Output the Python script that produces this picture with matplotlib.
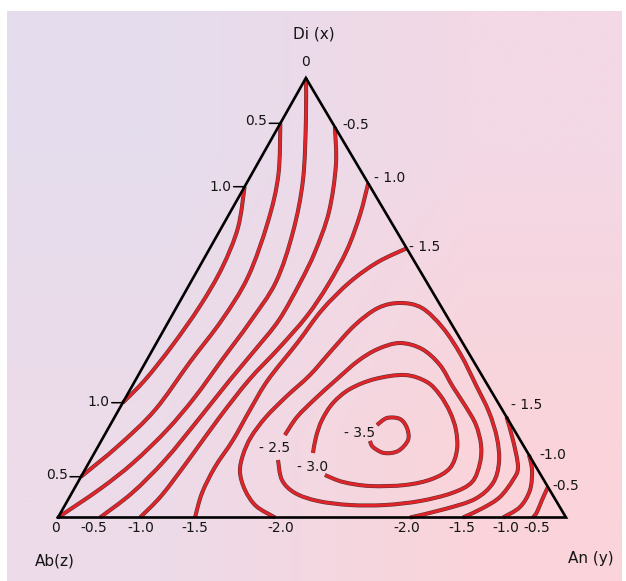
import numpy as np
import matplotlib
matplotlib.use("Agg")
import matplotlib.pyplot as plt
import matplotlib.patheffects as pe
from matplotlib.path import Path
from matplotlib.patches import PathPatch

# ---------------- data: contour lines as (Di fraction x, An fraction y); Ab = 1 - x - y
curve_p10 = [(0.7527, 0.0), (0.6587, 0.0327), (0.5677, 0.0457), (0.4812, 0.0447), (0.3902, 0.0339),
             (0.3129, 0.0185), (0.2612, 0.0)]
curve_p05 = [(0.8969, 0.0), (0.7793, 0.0535), (0.6724, 0.0850), (0.5472, 0.1069), (0.4494, 0.1033),
             (0.3538, 0.0872), (0.2446, 0.0715), (0.1627, 0.0388), (0.0928, 0.0)]
curve_0 = [(1.0, 0.0), (0.9044, 0.0467), (0.7679, 0.1075), (0.6496, 0.1455), (0.5358, 0.1675),
           (0.4448, 0.1608), (0.3584, 0.1478), (0.2742, 0.1358), (0.1991, 0.1173), (0.1240, 0.0870),
           (0.0648, 0.0510), (0.0, 0.0)]
curve_m05 = [(0.8885, 0.1115), (0.8020, 0.1557), (0.6951, 0.1941), (0.6041, 0.2110), (0.5336, 0.2159),
             (0.4494, 0.2157), (0.3811, 0.2018), (0.3129, 0.1858), (0.2218, 0.1673), (0.1308, 0.1469),
             (0.0557, 0.1185), (0.0, 0.0827)]
curve_m10 = [(0.7604, 0.2396), (0.6883, 0.2585), (0.6087, 0.2719), (0.5290, 0.2732), (0.4585, 0.2663),
             (0.3857, 0.2469), (0.3129, 0.2232), (0.2264, 0.2065), (0.1354, 0.1937), (0.0512, 0.1797),
             (0.0, 0.1614)]
curve_m15 = [(0.6125, 0.3875), (0.5813, 0.3461), (0.5358, 0.3132), (0.4721, 0.2892), (0.3993, 0.2776),
             (0.3129, 0.2606), (0.2446, 0.2585), (0.1763, 0.2585), (0.1149, 0.2530), (0.0557, 0.2563),
             (0.0, 0.2697)]
curve_m20 = [(0.0, 0.4272), (0.0262, 0.3770), (0.0626, 0.3376), (0.1035, 0.3077), (0.1422, 0.2947),
             (0.1832, 0.2906), (0.2287, 0.2978), (0.2765, 0.3157), (0.3242, 0.3378), (0.3811, 0.3533),
             (0.4380, 0.3709), (0.4767, 0.3972), (0.4881, 0.4350), (0.4767, 0.4839), (0.4312, 0.5474),
             (0.3697, 0.6128), (0.3015, 0.6756), (0.2400, 0.7313), (0.1809, 0.7758), (0.1263, 0.8065),
             (0.0785, 0.8179), (0.0421, 0.8004), (0.0193, 0.7524), (0.0, 0.6929)]
curve_m25 = [(0.1877, 0.3551), (0.2287, 0.3589), (0.2696, 0.3742), (0.3129, 0.3945), (0.3561, 0.4167),
             (0.3834, 0.4427), (0.3970, 0.4793), (0.3834, 0.5293), (0.3470, 0.5825), (0.2969, 0.6327),
             (0.2514, 0.6805), (0.2105, 0.7201), (0.1650, 0.7522), (0.1240, 0.7701), (0.0808, 0.7756),
             (0.0557, 0.7484), (0.0375, 0.6943), (0.0284, 0.6299), (0.0284, 0.5610), (0.0375, 0.4935),
             (0.0557, 0.4394), (0.0853, 0.3992), (0.1308, 0.3693)]
curve_m30 = [(0.1468, 0.4303), (0.1832, 0.4185), (0.2218, 0.4114), (0.2605, 0.4142), (0.2924, 0.4321),
             (0.3151, 0.4701), (0.3242, 0.5248), (0.3083, 0.5758), (0.2787, 0.6159), (0.2400, 0.6545),
             (0.1991, 0.6862), (0.1536, 0.7104), (0.1126, 0.7167), (0.0876, 0.6935), (0.0739, 0.6470),
             (0.0717, 0.5791), (0.0808, 0.5217), (0.0967, 0.4783)]
curve_m35 = [(0.2105, 0.5252), (0.2264, 0.5372), (0.2241, 0.5638), (0.2036, 0.5876), (0.1763, 0.6030),
             (0.1513, 0.5955), (0.1468, 0.5701), (0.1604, 0.5417), (0.1741, 0.5291)]
curve_m15_an = [(0.2287, 0.7713), (0.1763, 0.8096), (0.1149, 0.8494), (0.0853, 0.8539), (0.0466, 0.8472),
                (0.0216, 0.8260), (0.0, 0.7972)]
curve_m10_an = [(0.1422, 0.8578), (0.1081, 0.8803), (0.0626, 0.8986), (0.0239, 0.8978), (0.0, 0.8760)]
curve_m05_an = [(0.0694, 0.9306), (0.0398, 0.9333), (0.0125, 0.9368), (0.0, 0.9350)]

curves = [curve_p10, curve_p05, curve_0, curve_m05, curve_m10, curve_m15, curve_m20,
          curve_m25, curve_m30, curve_m35, curve_m15_an, curve_m10_an, curve_m05_an]

# edge labels
left_di = [0.8969, 0.7527, 0.2612, 0.0928]            # on Di-Ab edge
left_labels = ["0.5", "1.0", "1.0", "0.5"]
right_di = [0.8885, 0.7604, 0.6125, 0.2287, 0.1422, 0.0694]   # on Di-An edge
right_labels = ["-0.5", "- 1.0", "- 1.5", "- 1.5", "-1.0", "-0.5"]
bottom_an = [0.0, 0.0827, 0.1614, 0.2697, 0.4272, 0.6929, 0.7972, 0.8760, 0.9350]  # on Ab-An edge
bottom_labels = ["0", "-0.5", "-1.0", "-1.5", "-2.0", "-2.0", "-1.5", "-1.0", "-0.5"]
inner_labels = ["- 2.5", "- 3.0", "- 3.5"]
inner_pos = [(0.1581, 0.3500), (0.1149, 0.4459), (0.1923, 0.5006)]

# ---------------- layout / style
DIX, DIY = 0.488, 0.866


def cart(di, an):
    di = np.asarray(di, float)
    an = np.asarray(an, float)
    return an + di * DIX, di * DIY


def smooth_path(X, Y):
    """Catmull-Rom spline through the traced points, drawn as cubic Bezier segments."""
    P = np.column_stack([X, Y])
    n = len(P)
    verts = [P[0]]
    codes = [Path.MOVETO]
    for i in range(n - 1):
        p0 = P[i - 1] if i > 0 else P[i]
        p1, p2 = P[i], P[i + 1]
        p3 = P[i + 2] if i + 2 < n else P[i + 1]
        c1 = p1 + (p2 - p0) / 6.0
        c2 = p2 - (p3 - p1) / 6.0
        verts += [c1, c2, p2]
        codes += [Path.CURVE4] * 3
    return Path(np.array(verts), codes)


W, H = 626, 581
fig = plt.figure(figsize=(W / 100, H / 100), dpi=100)
fig.patch.set_facecolor("white")

# background gradient (scan tint)
bg = fig.add_axes([7 / W, 0, 615 / W, 570 / H], zorder=0)
tl = np.array([229, 221, 237]) / 255
tr = np.array([243, 216, 229]) / 255
bl = np.array([237, 219, 233]) / 255
br = np.array([250, 212, 218]) / 255
img = np.array([[tl, tr], [bl, br]])
bg.imshow(img, interpolation="bilinear", aspect="auto", extent=[0, 1, 0, 1])
bg.set_axis_off()

ax = fig.add_axes([58 / W, (H - 517.5) / H, 508 / W, 507.5 / H], zorder=1)
ax.set_xlim(0, 1)
ax.set_ylim(0, 1)
ax.set_axis_off()
ax.patch.set_alpha(0)

FONT = ["DejaVu Sans"]
TXT = "#151515"
RED = "#e1232a"
effects = [pe.Stroke(linewidth=2.9, foreground="#5a3434"), pe.Normal()]

for c in curves:
    d = [p[0] for p in c]
    a = [p[1] for p in c]
    X, Y = cart(d, a)
    patch = PathPatch(smooth_path(X, Y), facecolor="none", edgecolor=RED, lw=2.1,
                      capstyle="butt", joinstyle="round", zorder=2, clip_on=False,
                      path_effects=effects)
    ax.add_patch(patch)

# triangle
tx, ty = cart([0, 0, 1, 0], [0, 1, 0, 0])
ax.plot(tx, ty, color="black", lw=1.9, zorder=3, clip_on=False, solid_joinstyle="miter")

fs = 10
# left edge ticks + labels
left_dy = [2, 0, 1, 2]
for d, lab, dy in zip(left_di, left_labels, left_dy):
    X, Y = cart(d, 0.0)
    ax.annotate("", xy=(X, Y), xytext=(-11, 0), textcoords="offset pixels",
                arrowprops=dict(arrowstyle="-", lw=1.1, color="black", shrinkA=0, shrinkB=0))
    ax.annotate(lab, xy=(X, Y), xytext=(-13, dy), textcoords="offset pixels",
                ha="right", va="center", fontsize=fs, family=FONT, color=TXT)

# right edge labels
right_off = [(7, 2), (6, 5), (2, 1), (4, 12), (10, 0), (4, 1)]
for d, lab, (dx, dy) in zip(right_di, right_labels, right_off):
    X, Y = cart(d, 1 - d)
    ax.annotate(lab, xy=(X, Y), xytext=(dx, dy), textcoords="offset pixels",
                ha="left", va="center", fontsize=fs, family=FONT, color=TXT)

# bottom labels
bottom_dx = [-3, -6, 1, 0, 6, -3, -1, 3, 4]
for a, lab, dx in zip(bottom_an, bottom_labels, bottom_dx):
    X, Y = cart(0.0, a)
    ax.annotate(lab, xy=(X, Y), xytext=(dx, -11), textcoords="offset pixels",
                ha="center", va="center", fontsize=fs, family=FONT, color=TXT)

# interior labels
for lab, (d, a) in zip(inner_labels, inner_pos):
    X, Y = cart(d, a)
    ax.text(X, Y, lab, ha="center", va="center", fontsize=fs, family=FONT, color=TXT)

# apex label and component names
X, Y = cart(1.0, 0.0)
ax.annotate("0", xy=(X, Y), xytext=(0, 16), textcoords="offset pixels",
            ha="center", va="center", fontsize=fs, family=FONT, color=TXT)
ax.annotate("Di (x)", xy=(X, Y), xytext=(8, 44), textcoords="offset pixels",
            ha="center", va="center", fontsize=11, family=FONT, color=TXT)
X, Y = cart(0.0, 0.0)
ax.annotate("Ab(z)", xy=(X, Y), xytext=(-3, -44), textcoords="offset pixels",
            ha="center", va="center", fontsize=11, family=FONT, color=TXT)
X, Y = cart(0.0, 1.0)
ax.annotate("An (y)", xy=(X, Y), xytext=(25, -41), textcoords="offset pixels",
            ha="center", va="center", fontsize=11, family=FONT, color=TXT)

fig.savefig("out.png", dpi=100)
